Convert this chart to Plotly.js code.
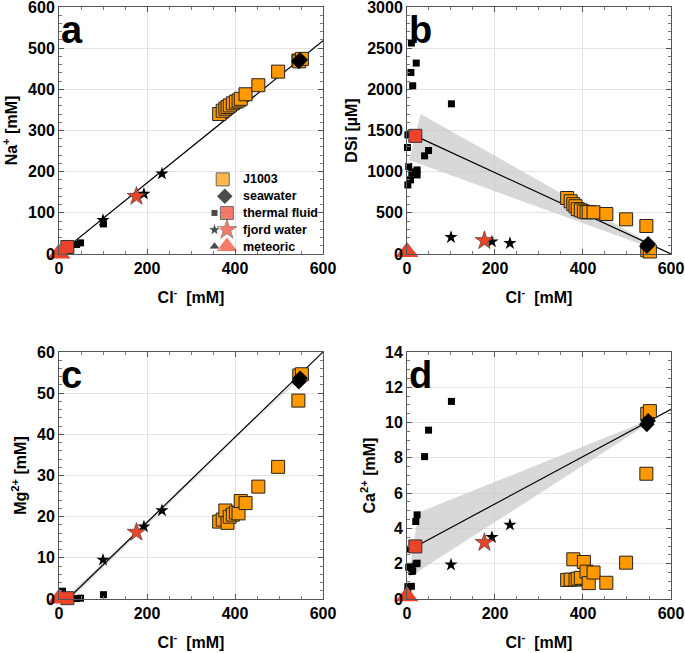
<!DOCTYPE html>
<html>
<head>
<meta charset="utf-8">
<script src="https://cdn.plot.ly/plotly-3.0.1.min.js"></script>
<style>
  html, body { margin: 0; padding: 0; background: #fff; }
  #chart { width: 685px; height: 653px; }
</style>
</head>
<body>
<div id="chart"></div>
<script>
// J1003 pore waters
const jCl  = [364, 372, 378, 383, 388, 395, 402, 408, 413, 424, 453, 498, 544, 546, 552];
const jNa  = [340, 348, 353, 357, 361, 366, 370, 373, 377, 388, 410, 443, 470, 468, 474];
const jDSi = [680, 640, 605, 580, 545, 530, 515, 505, 510, 506, 486, 421, 340, 45, 30];
const jMg  = [18.8, 19.3, 21.5, 18.5, 20, 20.5, 21, 20.8, 23.8, 23.3, 27.3, 32.1, 48.2, 54.3, 54.6];
const jCa  = [1.08, 1.1, 2.25, 1.1, 1.15, 1.2, 2.1, 1.55, 0.9, 1.5, 0.92, 2.06, 7.1, 10.5, 10.65];

// seawater
const swCl  = [545, 548];
const swNa  = [468, 472];
const swDSi = [95, 125];
const swMg  = [52.8, 53.6];
const swCa  = [9.9, 10.1];

// thermal fluids (individual samples)
const tCl  = [1, 2, 2, 4, 8, 9, 10, 11, 13, 20, 21, 23, 23, 40, 49, 101];
const tNa  = [2, 3, 3, 5, 8, 9, 10, 11, 12, 16, 17, 18, 18, 23, 27, 73];
const tDSi = [1293, 1447, 839, 1062, 900, 2205, 2562, 981, 2043, 1000, 2319, 1021, 960, 1192, 1257, 1824];
const tMg  = [0.3, 0.2, 0.2, 0.3, 1.9, 0.3, 0.3, 0.2, 0.3, 0.4, 0.3, 0.3, 0.3, 0.1, 0.2, 1.05];
const tCa  = [0.4, 0.3, 0.7, 1.8, 2.83, 1.85, 0.72, 1.56, 1.6, 4.39, 2.0, 4.77, 2.03, 8.07, 9.57, 11.2];
// thermal fluid end-member
const tEndCl = [19];
const tEndNa = [17];
const tEndDSi = [1435];
const tEndMg = [0.2];
const tEndCa = [2.98];

// fjord water
const fCl  = [100, 193, 234];
const fNa  = [82, 146, 195];
const fDSi = [203, 150, 130];
const fMg  = [9.5, 17.6, 21.5];
const fCa  = [1.94, 3.5, 4.2];
const fEndCl = [176];
const fEndNa = [140];
const fEndDSi = [162];
const fEndMg = [16.2];
const fEndCa = [3.2];

// meteoric end-member
const mEndCl = [0];
const mEndNa = [1];
const mEndDSi = [25];
const mEndMg = [0.1];
const mEndCa = [0.15];

// mixing lines
const naLineCl = [0, 600],  naLineY = [0, 518];
const siLineCl = [19, 600], siLineY = [1435, 0];
const mgLineCl = [20, 600], mgLineY = [0, 60];
const caLineCl = [20, 600], caLineY = [2.98, 10.75];

// uncertainty envelopes
const siBandCl = [5, 31, 546, 546],  siBandY = [1142, 1700, 150, 90];
const mgBandCl = [12, 27, 546, 546], mgBandY = [0, 0, 53.9, 53.3];
const caBandCl = [3, 26, 546, 546],  caBandY = [1.2, 4.9, 10.1, 9.9];

const legendLabels = ['J1003', 'seawater', 'thermal fluid', 'fjord water', 'meteoric'];

const ORANGE = '#FF9900';
const RED = '#EC4329';
const FONT = 'Liberation Sans, Arial, Helvetica, sans-serif';

function pts(xa, ya, x, y, marker) {
  return { x: x, y: y, xaxis: xa, yaxis: ya, type: 'scatter', mode: 'markers',
           cliponaxis: false, hoverinfo: 'skip', showlegend: false, marker: marker };
}

function panel(xa, ya, d) {
  const out = [];
  if (d.bandX) {
    out.push({ x: d.bandX, y: d.bandY, xaxis: xa, yaxis: ya, type: 'scatter', mode: 'lines',
               fill: 'toself', fillcolor: 'rgba(200,200,200,0.7)', line: { width: 0 },
               hoverinfo: 'skip', showlegend: false });
  }
  out.push({ x: d.lineX, y: d.lineY, xaxis: xa, yaxis: ya, type: 'scatter', mode: 'lines',
             line: { color: '#000', width: 1.2 }, hoverinfo: 'skip', showlegend: false });
  out.push(pts(xa, ya, tCl, d.t, { symbol: 'square', size: 7, color: '#000' }));
  out.push(pts(xa, ya, fCl, d.f, { symbol: 'star', size: 10, color: '#000' }));
  out.push(pts(xa, ya, jCl, d.j, { symbol: 'square', size: 13, color: ORANGE, line: { color: '#222', width: 1 } }));
  out.push(pts(xa, ya, swCl, d.sw, { symbol: 'diamond', size: 12, color: '#000' }));
  out.push(pts(xa, ya, tEndCl, d.tEnd, { symbol: 'square', size: 13, color: RED, line: { color: '#333', width: 1 } }));
  out.push(pts(xa, ya, fEndCl, d.fEnd, { symbol: 'star', size: 14, color: RED, line: { color: '#333', width: 0.6 } }));
  out.push(pts(xa, ya, mEndCl, d.mEnd, { symbol: 'triangle-up', size: 20, color: RED, line: { color: RED, width: 0 } }));
  return out;
}

const traces = [].concat(
  panel('x', 'y', { lineX: naLineCl, lineY: naLineY, t: tNa, f: fNa, j: jNa, sw: swNa,
                    tEnd: tEndNa, fEnd: fEndNa, mEnd: mEndNa }),
  panel('x2', 'y2', { bandX: siBandCl, bandY: siBandY, lineX: siLineCl, lineY: siLineY, t: tDSi, f: fDSi,
                      j: jDSi, sw: swDSi, tEnd: tEndDSi, fEnd: fEndDSi, mEnd: mEndDSi }),
  panel('x3', 'y3', { bandX: mgBandCl, bandY: mgBandY, lineX: mgLineCl, lineY: mgLineY, t: tMg, f: fMg,
                      j: jMg, sw: swMg, tEnd: tEndMg, fEnd: fEndMg, mEnd: mEndMg }),
  panel('x4', 'y4', { bandX: caBandCl, bandY: caBandY, lineX: caLineCl, lineY: caLineY, t: tCa, f: fCa,
                      j: jCa, sw: swCa, tEnd: tEndCa, fEnd: fEndCa, mEnd: mEndCa })
);

// legend keys drawn on an invisible overlay of panel a
const rowY = legendLabels.map((_, i) => 0.302 - i * 0.068);
const keyBig = { symbol: ['square', 'diamond', 'square', 'star', 'triangle-up'],
                 color: [ORANGE, '#000', RED, RED, RED],
                 size: [13, 12, 13, 15, 18],
                 x: [0.62, 0.628, 0.636, 0.636, 0.636] };
traces.push({ x: keyBig.x, y: rowY, xaxis: 'x5', yaxis: 'y5', type: 'scatter', mode: 'markers',
              hoverinfo: 'skip', showlegend: false, cliponaxis: false,
              marker: { symbol: keyBig.symbol, color: keyBig.color, size: keyBig.size,
                        line: { color: ['#222', '#000', '#333', '#333', RED], width: [1, 0, 1, 0.6, 0] } } });
traces.push({ x: [0.589, 0.589, 0.589], y: rowY.slice(2), xaxis: 'x5', yaxis: 'y5', type: 'scatter',
              mode: 'markers', hoverinfo: 'skip', showlegend: false, cliponaxis: false,
              marker: { symbol: ['square', 'star', 'triangle-up'], color: '#000', size: [7, 10, 10] } });

const legendText = legendLabels.map((t, i) => ({
  text: t, xref: 'x5', yref: 'y5', x: 0.69, y: rowY[i], xanchor: 'left', yanchor: 'middle',
  showarrow: false, font: { family: FONT, size: 12.5, weight: 'bold', color: '#000' }
}));

function axis(extra) {
  return Object.assign({
    showline: true, linecolor: '#555', linewidth: 1, mirror: 'allticks',
    ticks: 'inside', ticklen: 5, tickcolor: '#555', tickwidth: 1,
    showgrid: true, gridcolor: '#E4E4E4', gridwidth: 1, zeroline: false,
    ticklabeloverflow: 'allow',
    tickfont: { family: FONT, size: 16, weight: 'bold', color: '#000' }
  }, extra);
}
function title(text, standoff) {
  return { text: text, standoff: standoff, font: { family: FONT, size: 16, weight: 'bold', color: '#000' } };
}
function minor(dtick) {
  return { ticks: 'inside', ticklen: 3, tickcolor: '#777', dtick: dtick, showgrid: false };
}

const xL = [0, 0.4314], xR = [0.5686, 1];
const yT = [0.5828, 1], yB = [0, 0.4172];
const clTitle = 'Cl<sup>-</sup>  [mM]';

function xAxis(domain, anchor) {
  return axis({ domain: domain, anchor: anchor, range: [0, 600], tickvals: [0, 200, 400, 600],
                title: title(clTitle, 15), minor: minor(50) });
}
function yAxis(domain, anchor, top, step, minorStep, text, standoff) {
  const vals = [];
  for (let v = 0; v <= top + 1e-9; v += step) vals.push(v);
  return axis({ domain: domain, anchor: anchor, range: [0, top], tickvals: vals,
                title: title(text, standoff), minor: minor(minorStep) });
}

function letter(t, xa, ya) {
  return { text: t, xref: xa + ' domain', yref: ya + ' domain', x: 0.0, y: 1.0,
           xanchor: 'left', yanchor: 'top', showarrow: false,
           font: { family: FONT, size: 38, weight: 'bold', color: '#000' } };
}

const layout = {
  width: 685, height: 653,
  margin: { l: 59, r: 14, t: 7, b: 54 },
  paper_bgcolor: '#fff', plot_bgcolor: 'rgba(0,0,0,0)',
  showlegend: false,
  xaxis:  xAxis(xL, 'y'),
  yaxis:  yAxis(yT, 'x', 600, 100, 20, 'Na<sup>+</sup> [mM]', 6),
  xaxis2: xAxis(xR, 'y2'),
  yaxis2: yAxis(yT, 'x2', 3000, 500, 100, 'DSi [µM]', 5),
  xaxis3: xAxis(xL, 'y3'),
  yaxis3: yAxis(yB, 'x3', 60, 10, 2, 'Mg<sup>2+</sup> [mM]', 6),
  xaxis4: xAxis(xR, 'y4'),
  yaxis4: yAxis(yB, 'x4', 14, 2, 0.5, 'Ca<sup>2+</sup> [mM]', 5),
  xaxis5: { domain: xL, anchor: 'y5', overlaying: 'x', range: [0, 1], visible: false, fixedrange: true },
  yaxis5: { domain: yT, anchor: 'x5', overlaying: 'y', range: [0, 1], visible: false, fixedrange: true },
  annotations: [letter('a', 'x', 'y'), letter('b', 'x2', 'y2'), letter('c', 'x3', 'y3'), letter('d', 'x4', 'y4')]
    .concat(legendText)
};

Plotly.newPlot('chart', traces, layout, { displayModeBar: false, staticPlot: true });
</script>
</body>
</html>
